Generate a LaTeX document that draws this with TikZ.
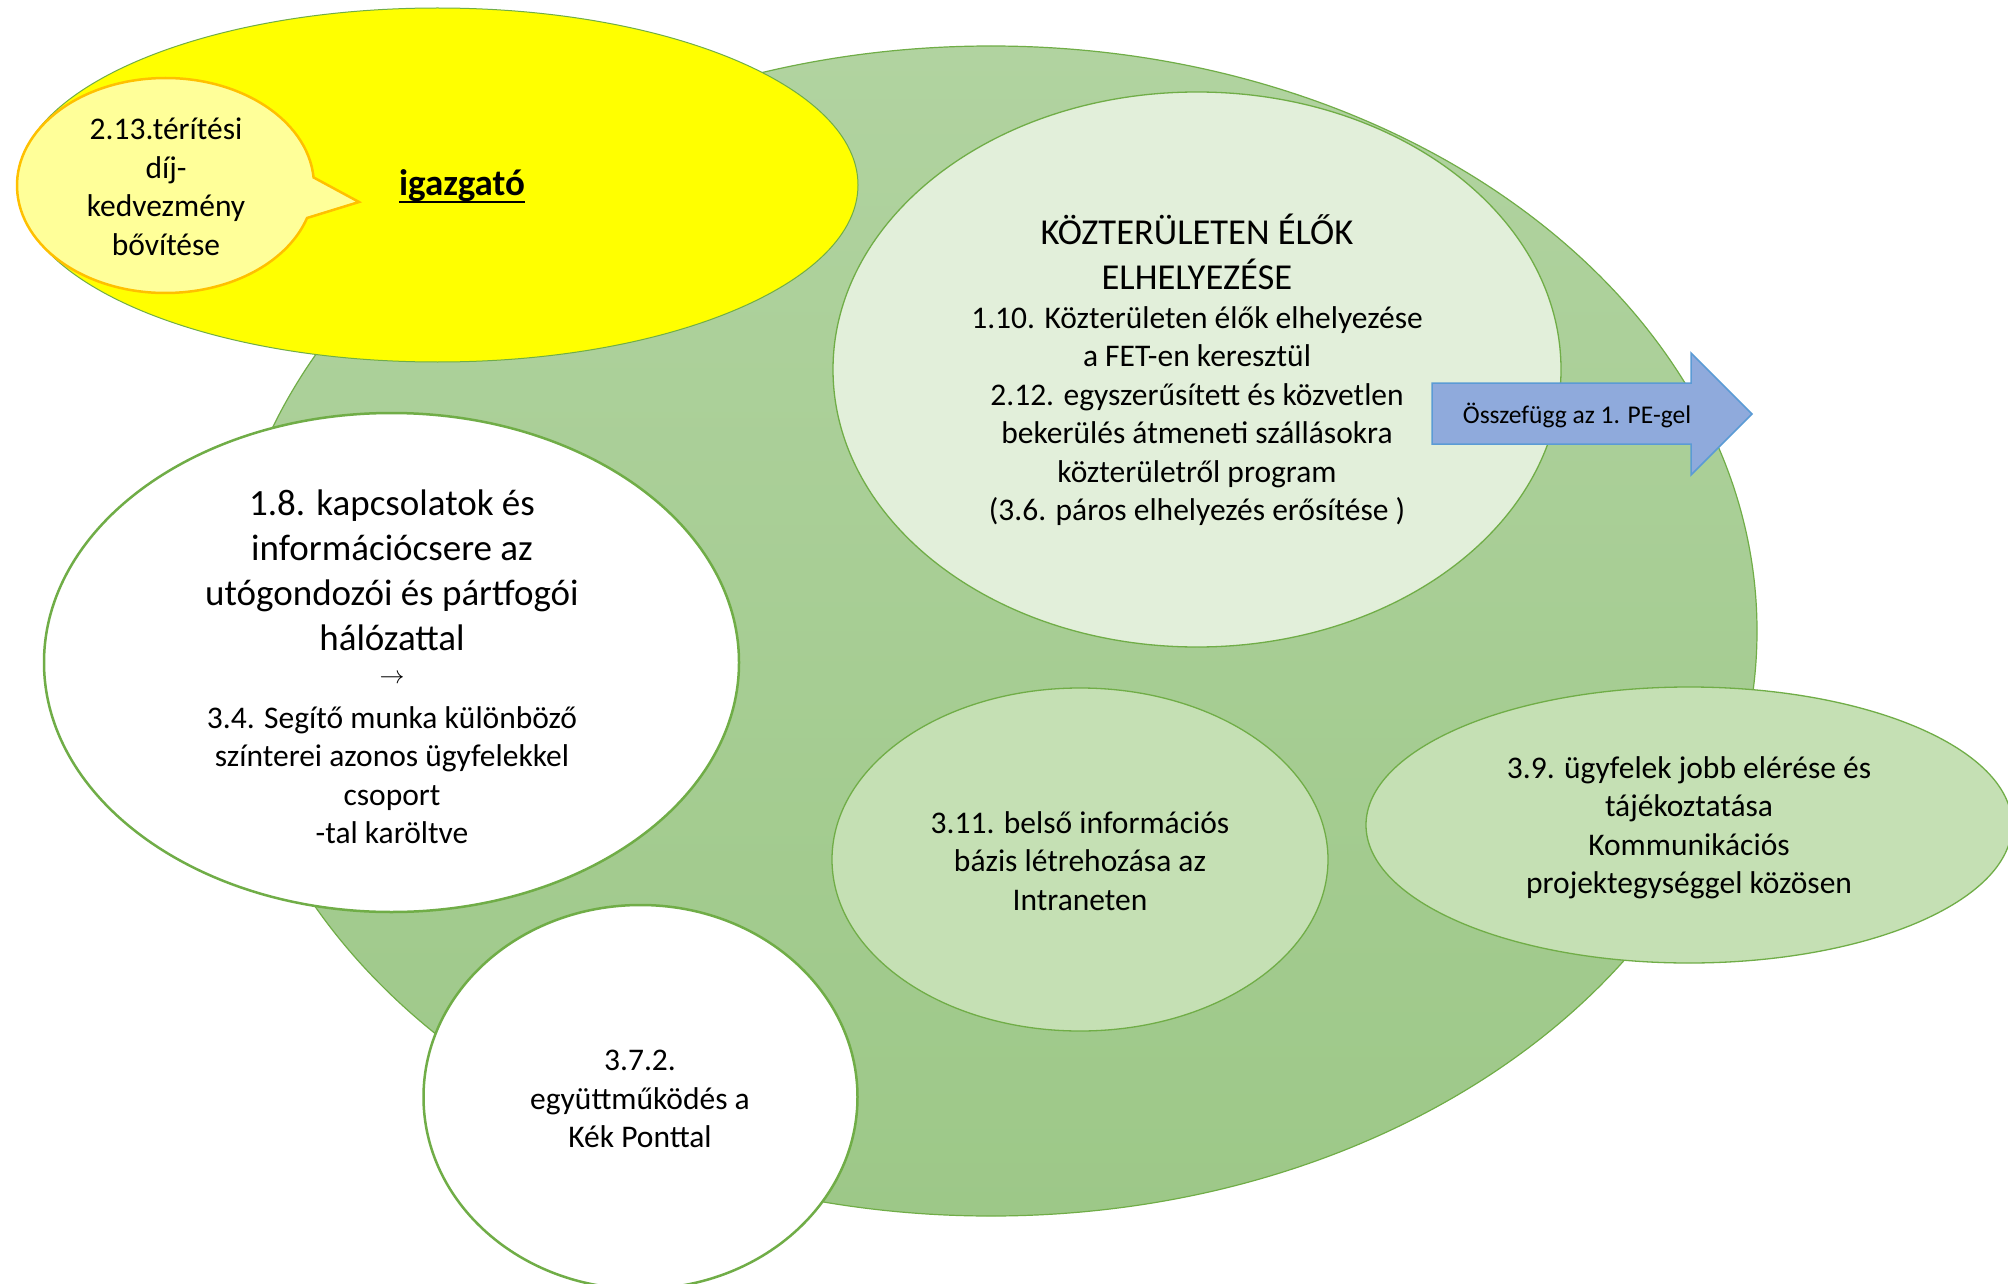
\documentclass[tikz,border=0pt]{standalone}
\usepackage{fontspec}
\setmainfont{Carlito}
\usetikzlibrary{shapes.geometric,calc}
\definecolor{gborder}{HTML}{70AD47}
\definecolor{bigtop}{HTML}{B1D3A0}
\definecolor{bigbot}{HTML}{9DC888}
\definecolor{lightg}{HTML}{E2EFDA}
\definecolor{midg}{HTML}{C5E0B4}
\definecolor{yelfill}{RGB}{255,255,0}
\definecolor{calfill}{HTML}{FFFF99}
\definecolor{calborder}{HTML}{FFC000}
\definecolor{arrfill}{HTML}{8FAADC}
\definecolor{arrborder}{HTML}{5B9BD5}
\begin{document}
\begin{tikzpicture}[x=1pt,y=-1pt,
  blob/.style={ellipse, draw=gborder, inner sep=0pt},
  bodytext/.style={font=\fontsize{31.5}{38.5}\selectfont, align=center, text=black, inner sep=0pt},
  titletext/.style={font=\fontsize{37}{45}\selectfont, align=center, text=black, inner sep=0pt}]
\useasboundingbox (0,0) rectangle (2008,1284);
\clip (0,0) rectangle (2008,1284);
\fill[white] (0,0) rectangle (2008,1284);

% big green background ellipse
\node[blob, top color=bigtop, bottom color=bigbot, line width=1.2pt,
      minimum width=1532pt, minimum height=1170pt] (big) at (991,631) {};

% yellow ellipse
\node[blob, fill=yelfill, line width=1pt, minimum width=841pt, minimum height=354pt] (yel) at (437.5,185) {};

% speech bubble
\coordinate (cc) at (165.5,185.5);
\coordinate (tip) at (359,202);
\draw[fill=calfill, draw=calborder, line width=2.5pt, line join=miter]
  (tip) -- ($(cc)+(-4.3:148.5 and 107.5)$)
  arc[start angle=-4.3, end angle=-342.4, x radius=148.5, y radius=107.5] -- cycle;
\node[bodytext] (cal) at (166,187) {2.13.térítési\\díj-\\kedvezmény\\bővítése};
\node[font=\fontsize{37}{44}\selectfont\bfseries, inner sep=0pt] (igaz) at (462,186) {igazgató};
\draw[line width=2.6pt] ($(igaz.base west)+(0,6)$) -- ($(igaz.base east)+(0,6)$);

% main light circle
\node[blob, fill=lightg, line width=1.3pt, minimum width=728pt, minimum height=555pt] (kozt) at (1197,369.5) {};
\node[font=\fontsize{36.5}{44.5}\selectfont, align=center, inner sep=0pt] (koztt) at (1197,252) {KÖZTERÜLETEN ÉLŐK\\ELHELYEZÉSE};
\node[bodytext] (koztb) at (1197,416) {1.10. Közterületen élők elhelyezése\\a FET-en keresztül\\2.12. egyszerűsített és közvetlen\\bekerülés átmeneti szállásokra\\közterületről program\\(3.6. páros elhelyezés erősítése )};

% blue arrow
\draw[fill=arrfill, draw=arrborder, line width=1.5pt]
  (1432,383) -- (1691,383) -- (1691,353) -- (1752,414) -- (1691,475) -- (1691,444) -- (1432,444) -- cycle;
\node[font=\fontsize{25.5}{30}\selectfont, inner sep=0pt] (arrt) at (1577,415) {Összefügg az 1. PE-gel};

% left white ellipse
\node[blob, fill=white, line width=2.5pt, minimum width=695pt, minimum height=499pt] (kapcs) at (391.5,662.5) {};
\node[titletext] (kapcst) at (392,570) {1.8. kapcsolatok és\\információcsere az\\utógondozói és pártfogói\\hálózattal};
\node[font=\fontsize{36}{38}\selectfont, inner sep=0pt] (kapcsa) at (392,679) {$\rightarrow$};
\node[bodytext] (kapcsb) at (392,775) {3.4. Segítő munka különböző\\színterei azonos ügyfelekkel\\csoport\\-tal karöltve};

% middle ellipse 3.11
\node[blob, fill=midg, line width=1.3pt, minimum width=496pt, minimum height=343pt] (belso) at (1080,859.5) {};
\node[bodytext] (belsot) at (1080,861) {3.11. belső információs\\bázis létrehozása az\\Intraneten};

% right ellipse 3.9
\node[blob, fill=midg, line width=1.3pt, minimum width=646pt, minimum height=276pt] (ugyf) at (1689,825) {};
\node[bodytext] (ugyft) at (1689,828) {3.9. ügyfelek jobb elérése és\\tájékoztatása\\Kommunikációs\\projektegységgel közösen};

% bottom white circle 3.7.2
\node[blob, fill=white, line width=2.5pt, minimum width=434pt, minimum height=384pt] (kek) at (640.5,1097) {};
\node[bodytext] (kekt) at (640,1099) {3.7.2.\\együttműködés a\\Kék Ponttal};
\end{tikzpicture}
\end{document}
